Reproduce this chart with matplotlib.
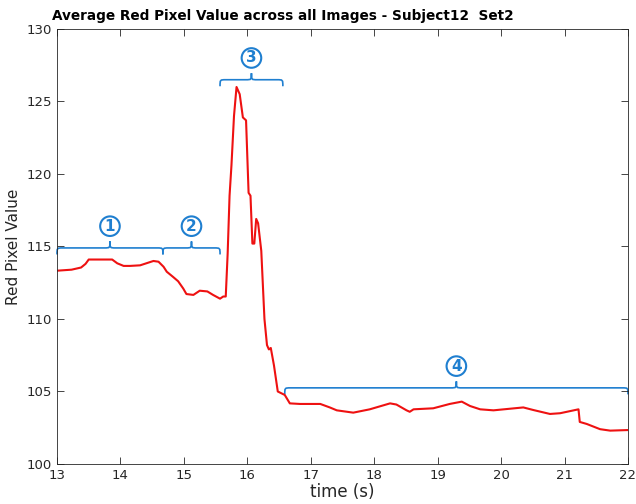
import matplotlib
matplotlib.use("Agg")
import matplotlib.pyplot as plt
from matplotlib.path import Path
from matplotlib.patches import PathPatch

# Red pixel curve
time_s = [13.00, 13.23, 13.38, 13.45, 13.50, 13.73, 13.87, 13.95, 14.05, 14.15,
          14.31, 14.52, 14.60, 14.68, 14.73, 14.83, 14.91, 14.99, 15.04, 15.15,
          15.25, 15.37, 15.46, 15.57, 15.62, 15.66, 15.69, 15.72, 15.75, 15.79,
          15.83, 15.88, 15.93, 15.98, 16.02, 16.05, 16.08, 16.11, 16.14, 16.17,
          16.22, 16.27, 16.31, 16.34, 16.37, 16.42, 16.48, 16.59, 16.67, 16.83,
          17.15, 17.30, 17.41, 17.67, 17.93, 18.25, 18.35, 18.51, 18.56, 18.62,
          18.93, 19.19, 19.38, 19.51, 19.67, 19.88, 20.35, 20.51, 20.77, 20.93,
          21.22, 21.24, 21.35, 21.56, 21.72, 22.00]
red_value = [113.33, 113.40, 113.55, 113.80, 114.10, 114.10, 114.10, 113.84, 113.66, 113.66,
             113.70, 114.00, 113.95, 113.60, 113.26, 112.90, 112.60, 112.10, 111.72, 111.66,
             111.95, 111.90, 111.66, 111.40, 111.55, 111.55, 114.50, 118.50, 120.60, 124.00,
             126.00, 125.50, 123.90, 123.70, 118.70, 118.50, 115.20, 115.20, 116.90, 116.60,
             114.70, 110.00, 108.20, 107.90, 108.00, 106.80, 105.00, 104.76, 104.18, 104.14,
             104.14, 103.90, 103.70, 103.54, 103.77, 104.18, 104.10, 103.70, 103.60, 103.77,
             103.84, 104.14, 104.30, 104.00, 103.77, 103.70, 103.90, 103.72, 103.45, 103.50,
             103.77, 102.90, 102.76, 102.40, 102.30, 102.34]

# Annotated phases: label, start, end (s)
phase_labels = ["1", "2", "3", "4"]
phase_start = [13.00, 14.67, 15.57, 16.59]
phase_end = [14.67, 15.57, 16.56, 22.00]
phase_level = [114.9, 114.9, 126.5, 105.25]

blue = "#1f7fd0"
grey = "#262626"

fig = plt.figure(figsize=(6.36, 5.04), dpi=100)
ax = fig.add_axes([0.0896, 0.0794, 0.8978, 0.8631])

ax.plot(time_s, red_value, color="#ee1111", lw=1.5)


def brace(ax, x0, x1, y, h=0.45, hook=0.09):
    xm = (x0 + x1) / 2
    verts = [
        (x0, y - h),
        (x0, y), (x0, y), (x0 + hook, y),
        (xm - hook, y),
        (xm, y), (xm, y), (xm, y + h),
        (xm, y), (xm, y), (xm + hook, y),
        (x1 - hook, y),
        (x1, y), (x1, y), (x1, y - h),
    ]
    codes = [Path.MOVETO,
             Path.CURVE4, Path.CURVE4, Path.CURVE4,
             Path.LINETO,
             Path.CURVE4, Path.CURVE4, Path.CURVE4,
             Path.CURVE4, Path.CURVE4, Path.CURVE4,
             Path.LINETO,
             Path.CURVE4, Path.CURVE4, Path.CURVE4]
    ax.add_patch(PathPatch(Path(verts, codes), fc="none", ec=blue, lw=1.2,
                           clip_on=False))


for lab, s, e, lv in zip(phase_labels, phase_start, phase_end, phase_level):
    brace(ax, s, e, lv)
    ax.text((s + e) / 2, lv + 1.5, lab, color=blue, fontsize=11, fontweight="bold",
            ha="center", va="center",
            bbox=dict(boxstyle="circle,pad=0.15", fc="white", ec=blue, lw=1.5))

ax.set_xlim(13, 22)
ax.set_ylim(100, 130)
ax.set_xticks(range(13, 23))
ax.set_yticks(range(100, 131, 5))
ax.tick_params(direction="in", top=True, right=True, labelsize=9.5,
               colors=grey, length=5, width=0.6)
for sp in ax.spines.values():
    sp.set_color(grey)
    sp.set_linewidth(0.6)
ax.set_xlabel("time (s)", fontsize=12, color=grey, labelpad=1)
ax.set_ylabel("Red Pixel Value", fontsize=11, color=grey, labelpad=4)

fig.text(0.444, 0.969, "Average Red Pixel Value across all Images - Subject12  Set2",
         ha="center", va="center", fontsize=9.8, fontweight="bold", color="black")

fig.savefig("out.png", dpi=100)
